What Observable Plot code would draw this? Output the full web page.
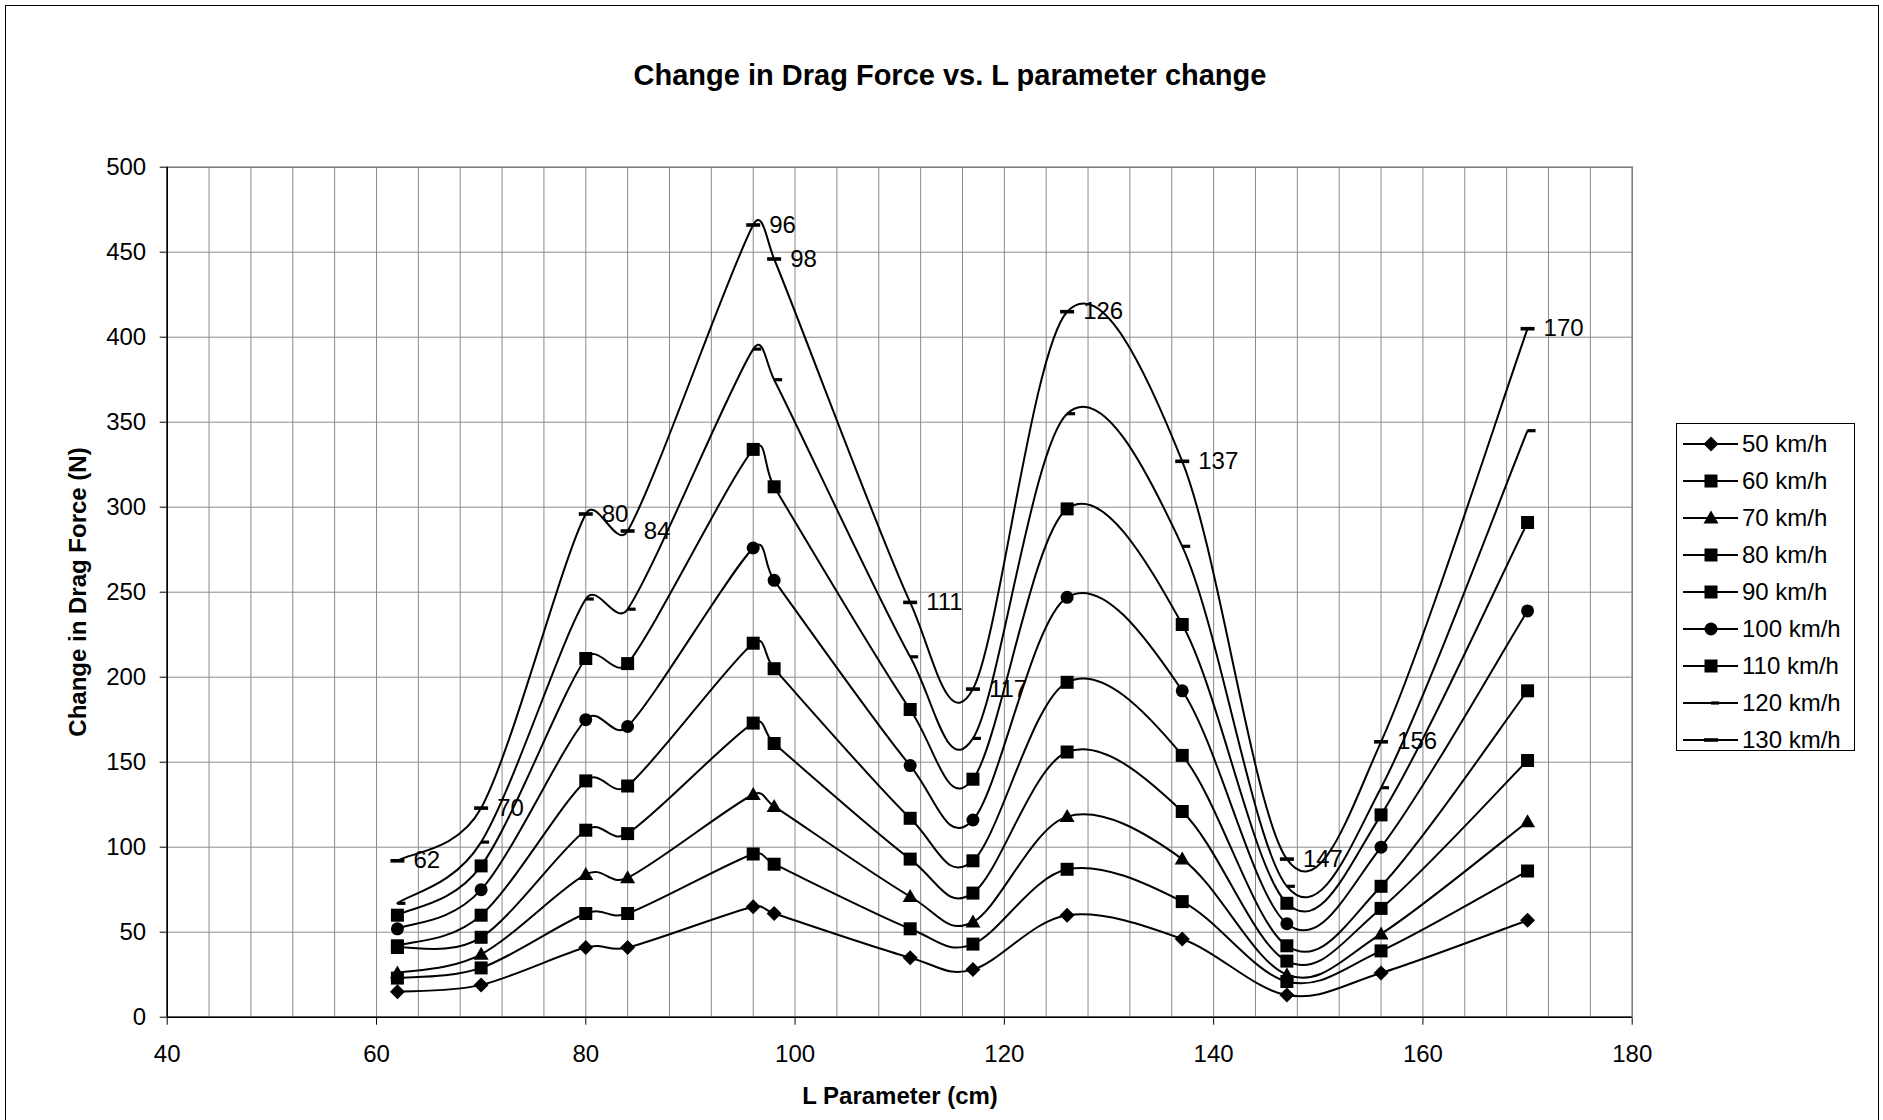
<!DOCTYPE html>
<html>
<head>
<meta charset="utf-8">
<script src="https://cdn.jsdelivr.net/npm/d3@7"></script>
<script src="https://cdn.jsdelivr.net/npm/@observablehq/plot@0.6"></script>
<style>
  html, body { margin: 0; padding: 0; background: #fff; }
  body { width: 1883px; height: 1120px; position: relative; overflow: hidden;
         font-family: "Liberation Sans", Arial, Helvetica, sans-serif; color: #000; }
  #frame { position: absolute; left: 5px; top: 5px; width: 1874px; height: 1125px;
           border: 1.5px solid #000; box-sizing: border-box; }
  #chart { position: absolute; left: 0; top: 0; }
  #title { position: absolute; left: 0; width: 1900px; top: 61px; text-align: center;
           font-weight: bold; font-size: 29px; line-height: 29px; }
  #xtitle { position: absolute; left: 0; width: 1800px; top: 1084px; text-align: center;
           font-weight: bold; font-size: 24px; line-height: 24px; }
  #ytitle { position: absolute; left: 78px; top: 592px; white-space: nowrap;
           font-weight: bold; font-size: 24px; line-height: 24px;
           transform: translate(-50%, -50%) rotate(-90deg); }
  #legend { position: absolute; left: 1676px; top: 423px; width: 179px; height: 328px;
            border: 1.3px solid #000; box-sizing: border-box; background: #fff; }
  .lrow { position: absolute; left: 0; height: 30px; display: flex; align-items: center; }
  .lrow svg { display: block; }
  .lrow span { font-size: 24px; line-height: 24px; margin-left: 3px; white-space: nowrap; }
</style>
</head>
<body>
<div id="frame"></div>
<div id="chart"></div>
<div id="title">Change in Drag Force vs. L parameter change</div>
<div id="ytitle">Change in Drag Force (N)</div>
<div id="xtitle">L Parameter (cm)</div>
<div id="legend"></div>
<script>
// ---- data ----
const L = [62, 70, 80, 84, 96, 98, 111, 117, 126, 137, 147, 156, 170];
const speeds = ["50 km/h", "60 km/h", "70 km/h", "80 km/h", "90 km/h", "100 km/h", "110 km/h", "120 km/h", "130 km/h"];
const f50  = [15, 19, 41, 41, 65, 61, 35, 28, 60, 46, 13, 26, 57];
const f60  = [23, 29, 61, 61, 96, 90, 52, 43, 87, 68, 21, 39, 86];
const f70  = [26, 37, 84, 82, 131, 124, 71, 56, 118, 93, 25, 49, 115];
const f80  = [41, 47, 110, 108, 173, 161, 93, 73, 156, 121, 33, 64, 151];
const f90  = [42, 60, 139, 136, 220, 205, 117, 92, 197, 154, 42, 77, 192];
const f100 = [52, 75, 175, 171, 276, 257, 148, 116, 247, 192, 55, 100, 239];
const f110 = [60, 89, 211, 208, 334, 312, 181, 140, 299, 231, 67, 119, 291];
const f120 = [67, 103, 246, 240, 393, 375, 212, 164, 355, 277, 77, 135, 345];
const f130 = [92, 123, 296, 286, 466, 446, 244, 193, 415, 327, 93, 162, 405];
const xTicks = [40, 60, 80, 100, 120, 140, 160, 180];
const yTicks = [0, 50, 100, 150, 200, 250, 300, 350, 400, 450, 500];
const xGrid = d3.range(44, 180, 4);
const yGrid = [50, 100, 150, 200, 250, 300, 350, 400, 450];
const seriesValues = [f50, f60, f70, f80, f90, f100, f110, f120, f130];

// ---- Excel-style smoothed line: Bezier legs = (next - prev)/6, capped at half the segment ----
function ExcelSmooth(context) { this._context = context; }
ExcelSmooth.prototype = {
  areaStart() {}, areaEnd() {},
  lineStart() { this._pts = []; },
  point(x, y) { this._pts.push([+x, +y]); },
  lineEnd() {
    const p = this._pts, n = p.length, c = this._context;
    if (!n) return;
    c.moveTo(p[0][0], p[0][1]);
    if (n === 1) return;
    const leg = (i, d) => {
      const a = p[Math.max(i - 1, 0)], b = p[Math.min(i + 1, n - 1)];
      let tx = (b[0] - a[0]) / 6, ty = (b[1] - a[1]) / 6;
      const len = Math.hypot(tx, ty);
      if (len > d / 2 && len > 0) { const s = d / 2 / len; tx *= s; ty *= s; }
      return [tx, ty];
    };
    for (let i = 0; i < n - 1; i++) {
      const d = Math.hypot(p[i + 1][0] - p[i][0], p[i + 1][1] - p[i][1]);
      const l0 = leg(i, d), l1 = leg(i + 1, d);
      c.bezierCurveTo(p[i][0] + l0[0], p[i][1] + l0[1],
                      p[i + 1][0] - l1[0], p[i + 1][1] - l1[1],
                      p[i + 1][0], p[i + 1][1]);
    }
  }
};
const excelCurve = (context) => new ExcelSmooth(context);

// ---- marker shapes (Excel-like) ----
const diamond = {draw(c) { const h = 7.5; c.moveTo(0, -h); c.lineTo(h, 0); c.lineTo(0, h); c.lineTo(-h, 0); c.closePath(); }};
const square = {draw(c) { const h = 6.5; c.moveTo(-h, -h); c.lineTo(h, -h); c.lineTo(h, h); c.lineTo(-h, h); c.closePath(); }};
const triangle = {draw(c) { c.moveTo(0, -7.5); c.lineTo(7.5, 5.5); c.lineTo(-7.5, 5.5); c.closePath(); }};
const circle = {draw(c) { const r = 6.5; c.moveTo(r, 0); c.arc(0, 0, r, 0, 2 * Math.PI); c.closePath(); }};
const dashLong = {draw(c) { c.moveTo(-7, -1.8); c.lineTo(7, -1.8); c.lineTo(7, 1.8); c.lineTo(-7, 1.8); c.closePath(); }};
const dashShort = {draw(c) { c.moveTo(0, -1.6); c.lineTo(8, -1.6); c.lineTo(8, 1.6); c.lineTo(0, 1.6); c.closePath(); }};
const symbols = [diamond, square, triangle, square, square, circle, square, dashShort, dashLong];

const rows = speeds.map((s, i) => L.map((x, j) => ({series: s, L: x, F: seriesValues[i][j]})));
const topSeries = rows[rows.length - 1];

const marks = [
  Plot.gridX(xGrid, {stroke: "#8a8a8a", strokeOpacity: 1, strokeWidth: 1}),
  Plot.gridY(yGrid, {stroke: "#8a8a8a", strokeOpacity: 1, strokeWidth: 1}),
  Plot.frame({stroke: "#808080", strokeWidth: 1.6}),
  Plot.ruleX([40], {stroke: "#000", strokeWidth: 1.6}),
  Plot.ruleY([0], {stroke: "#000", strokeWidth: 1.6}),
];
rows.forEach((r) => {
  marks.push(Plot.line(r, {x: "L", y: "F", curve: excelCurve, stroke: "#000", strokeWidth: 2}));
});
rows.forEach((r, i) => {
  marks.push(Plot.dot(r, {x: "L", y: "F", symbol: symbols[i], r: 6, fill: "#000", stroke: "none"}));
});
marks.push(Plot.text(topSeries, {x: "L", y: "F", text: d => String(d.L), dx: 16, textAnchor: "start", fontSize: 24, fill: "#000"}));

const chart = Plot.plot({
  width: 1883,
  height: 1120,
  marginLeft: 166.7,
  marginRight: 251.3,
  marginTop: 166.7,
  marginBottom: 103.3,
  x: {domain: [40, 180], ticks: xTicks, tickSize: 8, tickPadding: 20, label: null},
  y: {domain: [0, 500], ticks: yTicks, tickSize: 7, tickPadding: 14, label: null},
  style: {fontFamily: '"Liberation Sans", Arial, sans-serif', fontSize: "24px", color: "#000", background: "transparent"},
  marks
});
document.getElementById("chart").appendChild(chart);

// ---- legend ----
const legend = document.getElementById("legend");
speeds.forEach((s, i) => {
  const row = document.createElement("div");
  row.className = "lrow";
  row.style.top = (20.3 + i * 36.9 - 15) + "px";
  const svg = d3.create("svg").attr("width", 62).attr("height", 30);
  svg.append("line").attr("x1", 6).attr("x2", 61).attr("y1", 15).attr("y2", 15)
     .attr("stroke", "#000").attr("stroke-width", 2);
  svg.append("path").attr("d", d3.symbol(symbols[i], 100)()).attr("transform", "translate(34,15)").attr("fill", "#000");
  row.appendChild(svg.node());
  const t = document.createElement("span");
  t.textContent = s;
  row.appendChild(t);
  legend.appendChild(row);
});
</script>
</body>
</html>
